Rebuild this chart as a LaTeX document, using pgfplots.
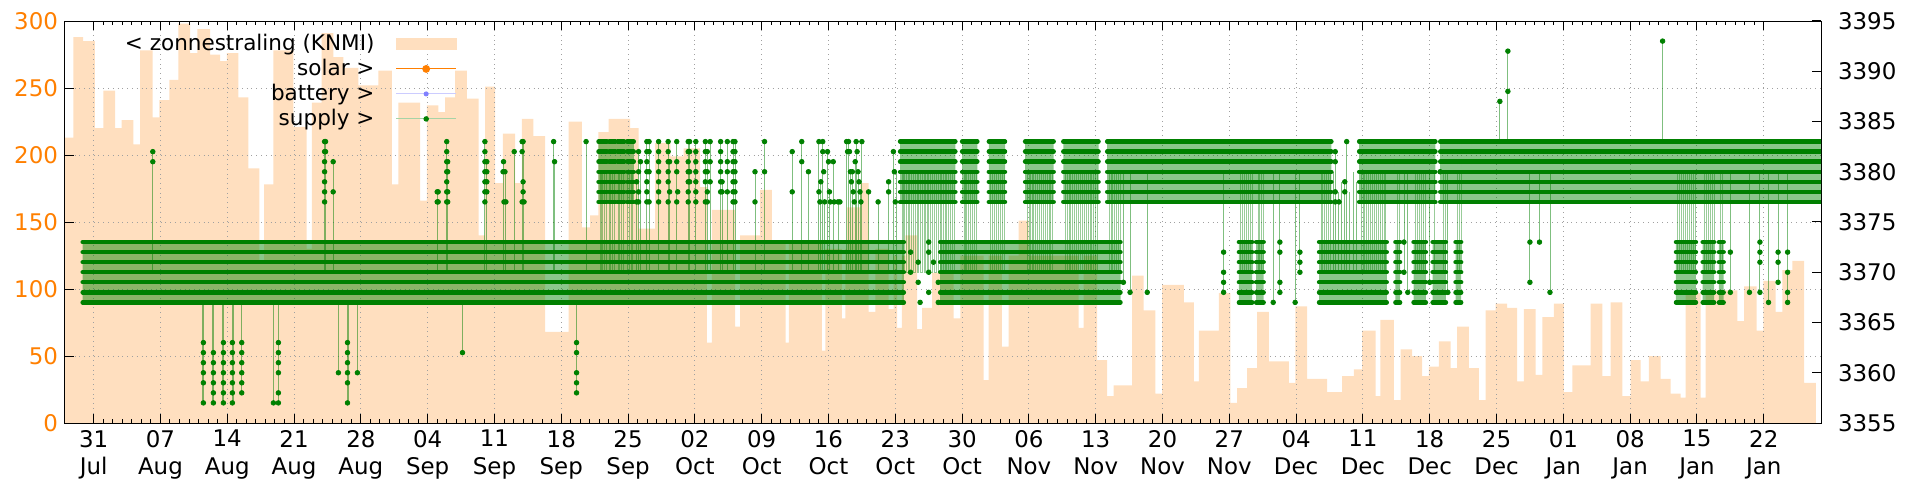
\documentclass[border=0pt]{standalone}
\usepackage{fontspec}
\setmainfont{DejaVu Sans}
\usepackage{pgfplots}
\usepackage{pgfplotstable}
\pgfplotsset{compat=1.18}
\definecolor{peach}{RGB}{255,223,191}
\definecolor{gporange}{RGB}{255,127,0}
\definecolor{gpgreen}{RGB}{0,128,0}
\definecolor{gridgray}{RGB}{160,160,160}

\pgfplotstableread{
x y
0.00 213
0.87 288
1.90 285
3.14 220
4.02 248
5.24 220
5.94 226
7.16 208
7.86 278
9.19 228
9.89 241
10.94 256
11.88 298
13.10 276
13.87 294
15.20 275
16.25 270
16.95 276
18.17 243
19.22 190
20.37 120
20.86 178
21.84 278
23.93 221
25.33 130
25.86 239
26.90 291
28.13 273
29.18 265
30.75 252
32.84 263
34.24 178
34.94 239
37.21 166
37.91 237
39.13 232
39.83 243
40.88 263
42.10 242
43.33 140
44.03 251
45.07 179
45.88 216
47.17 179
47.87 227
49.09 214
50.31 68
52.76 225
54.16 146
55.03 155
55.90 217
56.95 227
59.22 220
60.10 145
61.84 209
63.42 199
64.82 205
66.56 176
67.26 60
67.78 159
70.23 72
70.74 140
72.85 174
74.07 135
75.50 60
75.85 135
79.32 54
79.67 130
81.41 78
81.76 130
81.94 161
83.33 179
84.21 83
84.91 130
86.30 85
86.82 125
87.18 71
87.70 125
88.05 140
89.28 70
89.80 86
90.85 112
93.12 78
93.82 125
96.26 32
96.78 125
98.18 57
98.88 125
99.93 151
100.97 125
106.22 71
106.74 125
108.14 47
109.19 20
109.89 28
111.81 110
113.03 84
114.26 22
114.96 103
117.23 90
118.28 31
118.80 69
120.90 97
122.12 15
122.82 26
123.87 41
124.91 83
126.14 46
128.23 30
128.93 87
130.16 33
132.25 23
133.83 35
135.05 40
135.92 69
137.32 20
137.84 77
139.24 17
139.94 55
141.16 50
142.21 35
142.91 42
143.95 61
145.18 41
145.88 72
147.10 41
148.15 17
148.85 84
149.90 89
151.12 86
152.17 31
152.87 85
154.09 36
154.79 79
156.01 89
157.06 23
157.94 43
159.86 89
161.08 35
161.95 90
163.18 20
164.05 47
165.10 31
165.97 50
167.19 33
168.24 22
169.29 19
169.81 97
171.38 19
171.91 99
175.23 76
175.93 102
177.26 69
177.96 106
179.25 83
179.95 114
181.00 121
182.23 30
183.45 30
}\sunTable

\begin{document}
\begin{tikzpicture}
\pgfplotsset{
  every axis/.append style={font=\fontsize{11.5}{14}\selectfont},
  /pgf/number format/assume math mode=true,
  /pgf/number format/1000 sep={},
}
\begin{axis}[name=ax, scale only axis, width=878bp, height=201bp,
  xmin=0, xmax=184, ymin=0, ymax=300,
  axis on top,
  xtick={3,10,...,178},
  xticklabels={{31\\Jul},{07\\Aug},{14\\Aug},{21\\Aug},{28\\Aug},{04\\Sep},{11\\Sep},{18\\Sep},{25\\Sep},{02\\Oct},{09\\Oct},{16\\Oct},{23\\Oct},{30\\Oct},{06\\Nov},{13\\Nov},{20\\Nov},{27\\Nov},{04\\Dec},{11\\Dec},{18\\Dec},{25\\Dec},{01\\Jan},{08\\Jan},{15\\Jan},{22\\Jan}},
  xticklabel style={align=center},
  minor x tick num=6,
  ytick={0,50,...,300},
  ytick pos=left,
  xtick pos=both,
  tick align=inside,
  major tick length=4.5bp, minor tick length=2.2bp,
  yticklabel style={text=gporange},
  grid=major,
  major grid style={gridgray, dotted, line width=0.5bp},
  axis line style={line width=0.5bp},
  every tick/.style={black, line width=0.5bp},
]
\addplot[const plot, fill=peach, draw=none] table[x=x,y=y]{\sunTable} \closedcycle;
\end{axis}

\begin{axis}[scale only axis, width=878bp, height=201bp,
  at={(ax.south west)}, anchor=south west,
  xmin=0, xmax=184, ymin=3355, ymax=3395,
  hide x axis, axis y line*=right,
  ytick={3355,3360,...,3395},
  tick align=inside, major tick length=4.5bp,
  every tick/.style={black, line width=0.5bp},
  axis line style={line width=0.5bp},
  yticklabel style={xshift=5bp},
  unbounded coords=jump,
  legend plot pos=right,
  legend cell align=right,
  legend image code/.code={\path (0bp,0bp); \draw[mark repeat=2,mark phase=2,#1] plot coordinates {(10bp,0bp) (25bp,0bp) (40bp,0bp)};},
  legend style={at={(rel axis cs:0.2267,0.985)}, anchor=north east, draw=none, fill=none,
    inner xsep=3bp, column sep=0pt, row sep=0pt, font=\fontsize{10.8}{13}\selectfont,
    nodes={inner sep=0.6bp, text height=8.7bp, text depth=2.6bp}},
]
\addlegendimage{legend image code/.code={\path (0bp,0bp); \fill[peach] (10bp,-2.8bp) rectangle (40bp,2.8bp);}}
\addlegendentry{< zonnestraling (KNMI)}
\addlegendimage{gporange, line width=0.5bp, mark=*, mark size=1.7bp, mark options={solid, fill=gporange}}
\addlegendentry{solar >}
\addlegendimage{blue!20, line width=0.5bp, mark=*, mark size=1bp, mark options={solid, draw=blue!50, fill=blue!50}}
\addlegendentry{battery >}
\addlegendimage{gpgreen!35, line width=0.5bp, mark=*, mark size=1.1bp, mark options={solid, draw=gpgreen, fill=gpgreen}}
\addlegendentry{supply >}

% pale hatch inside dense bands
\addplot[forget plot, draw=none, fill=gpgreen, fill opacity=0.45] coordinates {
(1.85,3367)(1.85,3373)(87.9,3373)(87.9,3367)(87.9,nan)
(91.7,3367)(91.7,3373)(110.6,3373)(110.6,3367)(110.6,nan)
(123.0,3367)(123.0,3373)(124.4,3373)(124.4,3367)(124.4,nan)
(124.8,3367)(124.8,3373)(125.6,3373)(125.6,3367)(125.6,nan)
(131.4,3367)(131.4,3373)(138.5,3373)(138.5,3367)(138.5,nan)
(139.4,3367)(139.4,3373)(139.9,3373)(139.9,3367)(139.9,nan)
(141.3,3367)(141.3,3373)(142.6,3373)(142.6,3367)(142.6,nan)
(143.3,3367)(143.3,3373)(144.7,3373)(144.7,3367)(144.7,nan)
(145.7,3367)(145.7,3373)(146.3,3373)(146.3,3367)(146.3,nan)
(168.8,3367)(168.8,3373)(170.9,3373)(170.9,3367)(170.9,nan)
(171.6,3367)(171.6,3373)(172.8,3373)(172.8,3367)(172.8,nan)
(173.3,3367)(173.3,3373)(173.8,3373)(173.8,3367)(173.8,nan)
(55.9,3377)(55.9,3383)(59.6,3383)(59.6,3377)(59.6,nan)
(87.5,3377)(87.5,3383)(93.3,3383)(93.3,3377)(93.3,nan)
(94.0,3377)(94.0,3383)(95.6,3383)(95.6,3377)(95.6,nan)
(96.8,3377)(96.8,3383)(98.5,3383)(98.5,3377)(98.5,nan)
(100.6,3377)(100.6,3383)(103.6,3383)(103.6,3377)(103.6,nan)
(104.6,3377)(104.6,3383)(108.3,3383)(108.3,3377)(108.3,nan)
(109.2,3377)(109.2,3383)(132.7,3383)(132.7,3377)(132.7,nan)
(135.6,3377)(135.6,3383)(143.6,3383)(143.6,3377)(143.6,nan)
(144.1,3377)(144.1,3383)(184.0,3383)(184.0,3377)
};

% connecting lines between the two bands (dense periods)
\addplot[forget plot, const plot, gpgreen, opacity=0.4, line width=0.4bp] coordinates {
(55.90,3370)(56.05,3380)(56.20,3370)(56.35,3380)(56.50,3370)(56.70,3380)(57.05,3370)(57.20,3380)(57.35,3370)(57.60,3380)(57.95,3370)(58.10,3380)(58.30,3370)(58.50,3380)(58.95,3370)(59.10,3380)(59.30,3370)(59.50,3380)(59.50,nan)
(87.5,3370)(87.7,3380)(87.85,3370)(88.0,3380)(88.2,3370)(88.4,3380)(88.5,3370)(88.7,3380)(88.9,3370)(89.1,3380)(89.3,3370)(89.45,3380)(89.6,3370)(89.8,3380)(90.0,3370)(90.2,3380)(90.4,3370)(90.5,3380)(90.7,3370)(90.9,3380)(91.1,3370)(91.3,3380)(91.5,3370)(91.7,3380)(91.85,3370)(92.0,3380)(92.2,3370)(92.4,3380)(92.6,3370)(92.8,3380)(93.0,3370)(93.2,3380)(93.2,nan)
(94.0,3370)(94.2,3380)(94.35,3370)(94.5,3380)(94.7,3370)(94.9,3380)(95.1,3370)(95.3,3380)(95.5,3370)(95.5,nan)
(96.8,3370)(97.0,3380)(97.2,3370)(97.4,3380)(97.6,3370)(97.8,3380)(98.0,3370)(98.2,3380)(98.4,3370)(98.4,nan)
(100.6,3370)(100.8,3380)(101.0,3370)(101.2,3380)(101.35,3370)(101.5,3380)(101.7,3370)(101.9,3380)(102.1,3370)(102.3,3380)(102.5,3370)(102.7,3380)(102.9,3370)(103.1,3380)(103.3,3370)(103.5,3380)(103.5,nan)
(104.6,3370)(104.8,3380)(105.0,3370)(105.2,3380)(105.4,3370)(105.6,3380)(105.8,3370)(106.0,3380)(106.2,3370)(106.4,3380)(106.6,3370)(106.8,3380)(107.0,3370)(107.2,3380)(107.4,3370)(107.6,3380)(107.8,3370)(108.0,3380)(108.2,3370)(108.2,nan)
(109.2,3370)(109.4,3380)(109.6,3370)(109.8,3380)(110.0,3370)(110.2,3380)(110.4,3370)(110.6,3380)(110.6,nan)
(123.0,3370)(123.2,3380)(123.4,3370)(123.6,3380)(123.8,3370)(124.0,3380)(124.2,3370)(124.4,3380)(124.4,nan)
(124.8,3370)(125.0,3380)(125.2,3370)(125.4,3380)(125.6,3370)(125.6,nan)
(131.4,3370)(131.6,3380)(131.8,3370)(132.0,3380)(132.2,3370)(132.4,3380)(132.6,3370)(132.6,nan)
(135.6,3370)(135.8,3380)(136.0,3370)(136.2,3380)(136.4,3370)(136.6,3380)(136.8,3370)(137.0,3380)(137.2,3370)(137.4,3380)(137.6,3370)(137.8,3380)(138.0,3370)(138.2,3380)(138.4,3370)(138.4,nan)
(139.4,3370)(139.6,3380)(139.8,3370)(139.8,nan)
(141.3,3370)(141.5,3380)(141.7,3370)(141.9,3380)(142.1,3370)(142.3,3380)(142.5,3370)(142.5,nan)
(143.3,3370)(143.5,3380)(143.5,nan)
(144.2,3380)(144.4,3370)(144.6,3380)(144.6,nan)
(145.7,3380)(145.9,3370)(146.1,3380)(146.3,3370)(146.3,nan)
(168.8,3370)(169.0,3380)(169.2,3370)(169.4,3380)(169.6,3370)(169.8,3380)(170.0,3370)(170.2,3380)(170.4,3370)(170.6,3380)(170.8,3370)(170.8,nan)
(171.6,3370)(171.8,3380)(172.0,3370)(172.2,3380)(172.4,3370)(172.6,3380)(172.8,3370)(172.8,nan)
(173.3,3370)(173.5,3380)(173.7,3370)
};

% single connecting lines
\addplot[forget plot, gpgreen, opacity=0.5, line width=0.45bp] coordinates {
(9.2,3370)(9.2,3382)(9.2,nan)(27.2,3370)(27.2,3383)(27.2,nan)(27.3,3370)(27.3,3383)(27.3,nan)(28.1,3370)(28.1,3381)(28.1,nan)
(39.05,3370)(39.05,3378)(39.05,nan)(40.0,3370)(40.0,3383)(40.0,nan)(40.1,3370)(40.1,3381)(40.1,nan)(44.0,3370)(44.0,3383)(44.0,nan)(44.2,3370)(44.2,3381)(44.2,nan)
(45.95,3370)(45.95,3381)(45.95,nan)(46.1,3370)(46.1,3380)(46.1,nan)(47.07,3370)(47.07,3382)(47.07,nan)(47.9,3370)(47.9,3383)(47.9,nan)(48.05,3370)(48.05,3383)(48.05,nan)
(51.2,3370)(51.2,3383)(51.2,nan)(51.3,3370)(51.3,3381)(51.3,nan)(54.6,3370)(54.6,3383)(54.6,nan)
(59.9,3370)(59.9,3379)(59.9,nan)(60.1,3370)(60.1,3382)(60.1,nan)(60.3,3370)(60.3,3381)(60.3,nan)(60.97,3370)(60.97,3383)(60.97,nan)(61.2,3370)(61.2,3383)(61.2,nan)
(62.2,3370)(62.2,3383)(62.2,nan)(63.2,3370)(63.2,3383)(63.2,nan)(63.35,3370)(63.35,3381)(63.35,nan)(64.1,3370)(64.1,3383)(64.1,nan)(65.3,3370)(65.3,3383)(65.3,nan)
(65.45,3370)(65.45,3383)(65.45,nan)(66.1,3370)(66.1,3383)(66.1,nan)(67.1,3370)(67.1,3383)(67.1,nan)(67.3,3370)(67.3,3382)(67.3,nan)(67.6,3370)(67.6,3383)(67.6,nan)
(68.7,3370)(68.7,3383)(68.7,nan)(68.85,3370)(68.85,3379)(68.85,nan)(69.4,3370)(69.4,3383)(69.4,nan)(70.0,3370)(70.0,3383)(70.0,nan)(70.2,3370)(70.2,3383)(70.2,nan)
(72.3,3370)(72.3,3380)(72.3,nan)(73.3,3370)(73.3,3383)(73.3,nan)(76.2,3370)(76.2,3382)(76.2,nan)(77.2,3370)(77.2,3383)(77.2,nan)(77.9,3370)(77.9,3380)(77.9,nan)
(79.0,3370)(79.0,3383)(79.0,nan)(79.2,3370)(79.2,3379)(79.2,nan)(79.4,3370)(79.4,3383)(79.4,nan)(79.6,3370)(79.6,3377)(79.6,nan)(79.9,3370)(79.9,3382)(79.9,nan)
(80.1,3370)(80.1,3378)(80.1,nan)(80.5,3370)(80.5,3381)(80.5,nan)(81.0,3370)(81.0,3377)(81.0,nan)(81.9,3370)(81.9,3383)(81.9,nan)(82.1,3370)(82.1,3383)(82.1,nan)
(82.3,3370)(82.3,3380)(82.3,nan)(82.5,3370)(82.5,3380)(82.5,nan)(82.8,3370)(82.8,3381)(82.8,nan)(82.9,3370)(82.9,3383)(82.9,nan)(83.1,3370)(83.1,3380)(83.1,nan)
(83.3,3370)(83.3,3378)(83.3,nan)(83.5,3370)(83.5,3383)(83.5,nan)(84.2,3370)(84.2,3378)(84.2,nan)(85.2,3370)(85.2,3377)(85.2,nan)(86.3,3370)(86.3,3379)(86.3,nan)
(86.8,3370)(86.8,3382)(86.8,nan)(87.1,3370)(87.1,3380)(87.1,nan)
(110.9,3369)(110.9,3380)(110.9,nan)(111.6,3368)(111.6,3380)(111.6,nan)(113.4,3368)(113.4,3380)(113.4,nan)(121.4,3368)(121.4,3380)(121.4,nan)
(126.6,3367)(126.6,3380)(126.6,nan)(127.3,3368)(127.3,3380)(127.3,nan)(128.9,3367)(128.9,3380)(128.9,nan)(129.4,3370)(129.4,3380)(129.4,nan)
(132.9,3370)(132.9,3380)(132.9,nan)(133.1,3370)(133.1,3382)(133.1,nan)(133.4,3370)(133.4,3378)(133.4,nan)(133.8,3370)(133.8,3379)(133.8,nan)(134.1,3370)(134.1,3379)(134.1,nan)
(134.3,3370)(134.3,3383)(134.3,nan)(134.6,3370)(134.6,3378)(134.6,nan)(135.0,3370)(135.0,3380)(135.0,nan)(135.3,3370)(135.3,3379)(135.3,nan)
(140.3,3370)(140.3,3380)(140.3,nan)(140.7,3368)(140.7,3380)(140.7,nan)(143.0,3369)(143.0,3380)(143.0,nan)(144.9,3368)(144.9,3380)(144.9,nan)
(153.5,3369)(153.5,3380)(153.5,nan)(154.5,3373)(154.5,3380)(154.5,nan)(155.6,3368)(155.6,3380)(155.6,nan)
(174.5,3368)(174.5,3380)(174.5,nan)(176.5,3368)(176.5,3380)(176.5,nan)(177.6,3368)(177.6,3380)(177.6,nan)(178.5,3367)(178.5,3380)(178.5,nan)
(179.5,3369)(179.5,3380)(179.5,nan)(180.5,3367)(180.5,3380)(180.5,nan)
(150.35,3383)(150.35,3387)(150.35,nan)(151.19,3383)(151.19,3392)(151.19,nan)(167.4,3383)(167.4,3393)(167.4,nan)
(14.45,3367)(14.45,3357)(14.45,nan)(14.55,3367)(14.55,3357)(14.55,nan)(15.5,3367)(15.5,3357)(15.5,nan)(15.6,3367)(15.6,3357)(15.6,nan)
(16.55,3367)(16.55,3357)(16.55,nan)(16.65,3367)(16.65,3357)(16.65,nan)(17.5,3367)(17.5,3357)(17.5,nan)(17.6,3367)(17.6,3357)(17.6,nan)
(18.52,3367)(18.52,3358)(18.52,nan)(21.8,3367)(21.8,3357)(21.8,nan)(22.36,3367)(22.36,3357)(22.36,nan)(28.65,3367)(28.65,3360)(28.65,nan)
(29.55,3367)(29.55,3357)(29.55,nan)(29.65,3367)(29.65,3357)(29.65,nan)(30.64,3367)(30.64,3360)(30.64,nan)(41.65,3367)(41.65,3362)(41.65,nan)(53.6,3367)(53.6,3358)
};

% dense rows of the lower band
\pgfplotsinvokeforeach{3367,...,3373}{
\addplot[forget plot, gpgreen, line width=2.2bp, line cap=round] coordinates {
(1.85,#1)(87.9,#1)(87.9,nan)(91.7,#1)(110.6,#1)(110.6,nan)(123.0,#1)(124.4,#1)(124.4,nan)(124.8,#1)(125.6,#1)(125.6,nan)
(131.4,#1)(138.5,#1)(138.5,nan)(139.4,#1)(139.9,#1)(139.9,nan)(141.3,#1)(142.6,#1)(142.6,nan)(143.3,#1)(144.7,#1)(144.7,nan)
(145.7,#1)(146.3,#1)(146.3,nan)(168.8,#1)(170.9,#1)(170.9,nan)(171.6,#1)(172.8,#1)(172.8,nan)(173.3,#1)(173.8,#1)};
}
% dense rows of the upper band
\pgfplotsinvokeforeach{3377,...,3383}{
\addplot[forget plot, gpgreen, line width=2.2bp, line cap=round] coordinates {
(55.9,#1)(56.8,#1)(56.8,nan)(57.0,#1)(57.7,#1)(57.7,nan)(57.9,#1)(58.6,#1)(58.6,nan)(58.9,#1)(59.6,#1)(59.6,nan)
(87.5,#1)(93.3,#1)(93.3,nan)(94.0,#1)(95.6,#1)(95.6,nan)(96.8,#1)(98.5,#1)(98.5,nan)(100.6,#1)(103.6,#1)(103.6,nan)
(104.6,#1)(108.3,#1)(108.3,nan)(109.2,#1)(132.7,#1)(132.7,nan)(135.6,#1)(143.6,#1)(143.6,nan)(144.1,#1)(184.0,#1)};
}

% scattered points
\addplot[forget plot, only marks, mark=*, mark size=1.15bp, gpgreen] coordinates {
(9.2,3382)(9.2,3381)
(27.2,3383)(27.2,3382)(27.2,3381)(27.2,3380)(27.2,3379)(27.2,3378)(27.2,3377)(27.3,3383)(27.3,3382)
(28.1,3381)(28.1,3378)
(39.1,3378)(39.1,3377)(39.0,3378)(39.0,3377)
(40.0,3383)(40.0,3382)(40.0,3381)(40.0,3380)(40.0,3379)(40.0,3378)(40.0,3377)(40.1,3381)(40.1,3380)(40.1,3378)(40.1,3377)
(44.0,3383)(44.0,3382)(44.0,3381)(44.0,3380)(44.0,3379)(44.0,3378)(44.0,3377)(44.2,3381)(44.2,3380)(44.2,3379)(44.2,3378)
(45.95,3381)(46.1,3380)(46.0,3377)(46.2,3377)(45.9,3380)
(47.07,3382)
(47.9,3383)(48.0,3383)(47.9,3382)(48.0,3379)(48.0,3378)(47.9,3377)(48.1,3377)
(51.2,3383)(51.3,3381)(54.6,3383)
(59.9,3377)(59.9,3379)
(60.1,3382)(60.1,3380)(60.1,3378)(60.1,3377)(60.3,3381)
(60.97,3383)(60.97,3382)(60.97,3381)(60.97,3380)(60.97,3379)(60.97,3378)(60.97,3377)
(61.2,3383)(61.2,3382)(61.2,3380)(61.2,3377)
(62.2,3383)(62.2,3382)(62.2,3381)(62.2,3380)(62.2,3379)(62.2,3378)(62.2,3377)
(63.2,3383)(63.2,3382)(63.2,3381)(63.2,3380)(63.2,3379)(63.2,3377)(63.35,3381)(63.35,3378)
(64.1,3383)(64.1,3381)(64.1,3380)(64.1,3377)(64.2,3378)
(65.3,3383)(65.3,3382)(65.3,3381)(65.3,3380)(65.3,3379)(65.3,3378)(65.3,3377)
(65.45,3383)(65.45,3382)(65.45,3380)(65.45,3379)
(66.1,3383)(66.1,3382)(66.1,3381)(66.1,3380)(66.1,3379)(66.1,3378)(66.1,3377)
(67.1,3383)(67.1,3382)(67.1,3381)(67.1,3380)(67.1,3379)(67.1,3377)
(67.3,3382)(67.3,3380)(67.3,3378)(67.3,3377)(67.6,3383)(67.6,3381)(67.6,3379)
(68.7,3383)(68.7,3382)(68.7,3381)(68.7,3380)(68.7,3379)(68.7,3378)(68.85,3379)(68.85,3378)
(69.4,3383)(69.4,3381)(69.4,3380)(69.4,3378)
(70.0,3383)(70.0,3382)(70.0,3381)(70.0,3380)(70.0,3379)(70.0,3378)(70.0,3377)
(70.2,3383)(70.2,3382)(70.2,3381)(70.2,3380)(70.2,3379)(70.2,3378)(70.2,3377)
(72.3,3380)(72.3,3377)(73.3,3383)(73.3,3380)(76.2,3382)(76.2,3378)(77.2,3383)(77.2,3381)(77.9,3380)
(79.0,3383)(79.0,3378)(79.1,3377)(79.2,3379)(79.4,3383)(79.4,3382)(79.5,3380)(79.6,3377)
(79.9,3382)(80.0,3381)(80.1,3378)(80.2,3377)(80.5,3381)(80.6,3377)(81.2,3377)(81.0,3377)
(81.9,3383)(82.0,3382)(82.1,3383)(82.2,3382)(82.3,3380)(82.4,3379)(82.5,3380)(82.6,3378)(82.7,3377)(82.8,3381)
(82.9,3383)(83.0,3382)(83.1,3380)(83.2,3379)(83.3,3378)(83.4,3377)(83.5,3383)
(84.2,3378)(85.2,3377)(86.3,3379)(86.3,3378)(86.8,3382)(86.9,3380)(87.0,3377)
(133.1,3382)(133.1,3381)(133.1,3378)(133.1,3377)(134.1,3379)(134.1,3378)(134.3,3383)(133.5,3377)(144.1,3380)
(150.35,3387)(151.19,3392)(151.19,3388)(167.4,3393)
(88.6,3372)(88.6,3370)(89.4,3371)(89.4,3369)(89.6,3367)(90.5,3373)(90.5,3372)(90.5,3370)(90.5,3368)(91.0,3371)(91.5,3367)(91.5,3369)
(110.9,3369)(111.6,3368)(113.4,3368)
(121.4,3372)(121.4,3370)(121.4,3369)(121.4,3368)
(126.6,3367)(127.3,3373)(127.3,3372)(127.3,3369)(127.3,3368)(128.9,3367)(129.4,3372)(129.4,3371)(129.4,3370)
(140.3,3373)(140.3,3370)(140.7,3368)(143.0,3369)(144.9,3368)
(153.5,3373)(153.5,3369)(154.5,3373)(155.6,3368)
(174.5,3372)(174.5,3368)(176.5,3368)(177.6,3373)(177.6,3372)(177.6,3371)(177.6,3368)(178.5,3367)
(179.5,3372)(179.5,3371)(179.5,3369)(180.5,3372)(180.5,3370)(180.5,3368)(180.5,3367)
(14.5,3363)(14.5,3362)(14.5,3361)(14.5,3360)(14.5,3359)(14.5,3357)
(15.55,3362)(15.55,3361)(15.55,3360)(15.55,3359)(15.55,3358)(15.55,3357)
(16.6,3363)(16.6,3362)(16.6,3361)(16.6,3360)(16.6,3359)(16.6,3358)(16.6,3357)
(17.54,3363)(17.54,3362)(17.54,3361)(17.54,3360)(17.54,3359)(17.54,3358)(17.54,3357)
(18.52,3363)(18.52,3362)(18.52,3361)(18.52,3360)(18.52,3359)(18.52,3358)
(21.84,3357)(22.36,3363)(22.36,3362)(22.36,3361)(22.36,3360)(22.36,3358)(22.36,3357)
(28.65,3360)(29.6,3363)(29.6,3362)(29.6,3361)(29.6,3360)(29.6,3359)(29.6,3357)(30.64,3360)
(41.65,3362)(53.6,3363)(53.6,3362)(53.6,3360)(53.6,3359)(53.6,3358)
};
\end{axis}
\pgfresetboundingbox
\path ([shift={(-32.5bp,-28.5bp)}]ax.south west) rectangle ([shift={(49.5bp,10.5bp)}]ax.north east);
\end{tikzpicture}
\end{document}
